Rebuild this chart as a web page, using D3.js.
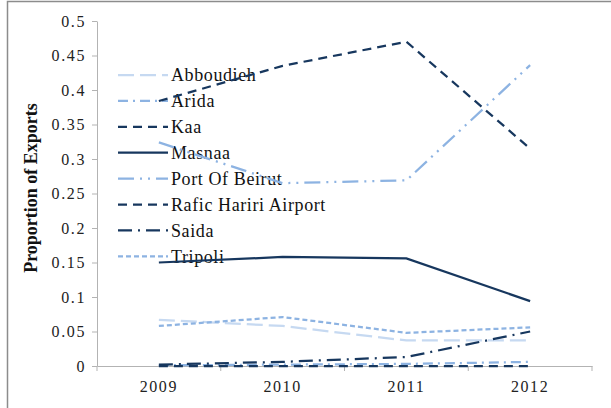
<!DOCTYPE html>
<html>
<head>
<meta charset="utf-8">
<script src="https://cdn.jsdelivr.net/npm/d3@7"></script>
<style>
  body { margin: 0; background: #fff; }
  svg text { font-family: "Liberation Serif", "DejaVu Serif", "Times New Roman", serif; }
</style>
</head>
<body>
<svg id="chart" width="611" height="408"></svg>
<script>
// data
var years = ['2009', '2010', '2011', '2012'];
var yTicks = [0, 0.05, 0.1, 0.15, 0.2, 0.25, 0.3, 0.35, 0.4, 0.45, 0.5];
var yTickLabels = ['0', '0.05', '0.1', '0.15', '0.2', '0.25', '0.3', '0.35', '0.4', '0.45', '0.5'];

var seriesNames = ['Abboudieh', 'Arida', 'Kaa', 'Masnaa', 'Port Of Beirut', 'Rafic Hariri Airport', 'Saida', 'Tripoli'];
var abboudieh = [0.067, 0.058, 0.037, 0.037];
var arida     = [0.001, 0.002, 0.003, 0.006];
var kaa       = [0.000, 0.000, 0.000, 0.000];
var masnaa    = [0.150, 0.158, 0.156, 0.094];
var portBeirut = [0.324, 0.265, 0.269, 0.436];
var rafic     = [0.384, 0.435, 0.470, 0.315];
var saida     = [0.002, 0.006, 0.013, 0.050];
var tripoli   = [0.058, 0.071, 0.048, 0.056];

var seriesValues = [abboudieh, arida, kaa, masnaa, portBeirut, rafic, saida, tripoli];

var dark = '#17375e', mid = '#8db3e2', light = '#c6d9f1';
var styles = [
  { c: light, dash: '16,6' },
  { c: mid,   dash: '10,5,2,5' },
  { c: dark,  dash: '9,6' },
  { c: dark,  dash: null },
  { c: mid,   dash: '16,6,2,6,2,6' },
  { c: dark,  dash: '9,6' },
  { c: dark,  dash: '14,6,2,6' },
  { c: mid,   dash: '5,3' }
];

var serif = '"Liberation Serif", "DejaVu Serif", serif';
var svg = d3.select('#chart');

var x = d3.scaleBand().domain(years).range([97, 592]);
var y = d3.scaleLinear().domain([0, 0.5]).range([366, 21]);

// outer frame (top + left)
svg.append('path')
  .attr('d', 'M7.5,408 L7.5,1.5 L611,1.5')
  .attr('fill', 'none')
  .attr('stroke', '#8c8c8c')
  .attr('stroke-width', 1.5);

// y axis
var yAxis = svg.append('g')
  .attr('transform', 'translate(97,0)')
  .call(d3.axisLeft(y).tickValues(yTicks).tickSize(5).tickSizeOuter(0)
    .tickFormat(function(d, i) { return yTickLabels[i]; }));
yAxis.attr('font-family', null);
yAxis.selectAll('line, path').attr('stroke', '#b3b3b3');
yAxis.selectAll('text')
  .attr('x', -11)
  .style('font-family', serif)
  .style('font-size', '16px')
  .style('letter-spacing', '1.6px')
  .attr('fill', '#222');

// x axis
var xAxis = svg.append('g')
  .attr('transform', 'translate(0,366)')
  .call(d3.axisBottom(x).tickSize(0).tickSizeOuter(0));
xAxis.attr('font-family', null);
xAxis.select('path').attr('stroke', '#b3b3b3');
xAxis.selectAll('text')
  .attr('dy', 0)
  .attr('y', 26)
  .style('font-family', serif)
  .style('font-size', '16px')
  .style('letter-spacing', '1.6px')
  .attr('fill', '#222');

var bounds = years.map(function(d) { return x(d); }).concat([x.range()[1]]);
xAxis.selectAll('.bound')
  .data(bounds)
  .enter()
  .append('line')
  .attr('class', 'bound')
  .attr('x1', function(d) { return d; })
  .attr('x2', function(d) { return d; })
  .attr('y1', 0)
  .attr('y2', 5)
  .attr('stroke', '#b3b3b3');

// y title
svg.append('text')
  .attr('transform', 'translate(37,188) rotate(-90)')
  .attr('text-anchor', 'middle')
  .style('font-family', serif)
  .style('font-size', '18px')
  .style('font-weight', 'bold')
  .attr('fill', '#111')
  .text('Proportion of Exports');

// legend
var legend = svg.append('g');
var rows = legend.selectAll('g')
  .data(seriesNames)
  .enter()
  .append('g')
  .attr('transform', function(d, i) { return 'translate(118,' + (75 + i * 25.9) + ')'; });

rows.append('line')
  .attr('x1', 0)
  .attr('x2', 50)
  .attr('stroke', function(d, i) { return styles[i].c; })
  .attr('stroke-width', 2.25)
  .attr('stroke-dasharray', function(d, i) { return styles[i].dash; });

rows.append('text')
  .attr('x', 53)
  .attr('dy', '0.35em')
  .style('font-family', serif)
  .style('font-size', '18px')
  .style('letter-spacing', '0.6px')
  .attr('fill', '#111')
  .text(function(d) { return d; });

// lines
var line = d3.line()
  .x(function(d, i) { return x(years[i]) + x.bandwidth() / 2; })
  .y(function(d) { return y(d); });

svg.selectAll('.series')
  .data(seriesValues)
  .enter()
  .append('path')
  .attr('class', 'series')
  .attr('d', line)
  .attr('fill', 'none')
  .attr('stroke', function(d, i) { return styles[i].c; })
  .attr('stroke-width', 2.25)
  .attr('stroke-dasharray', function(d, i) { return styles[i].dash; });
</script>
</body>
</html>
